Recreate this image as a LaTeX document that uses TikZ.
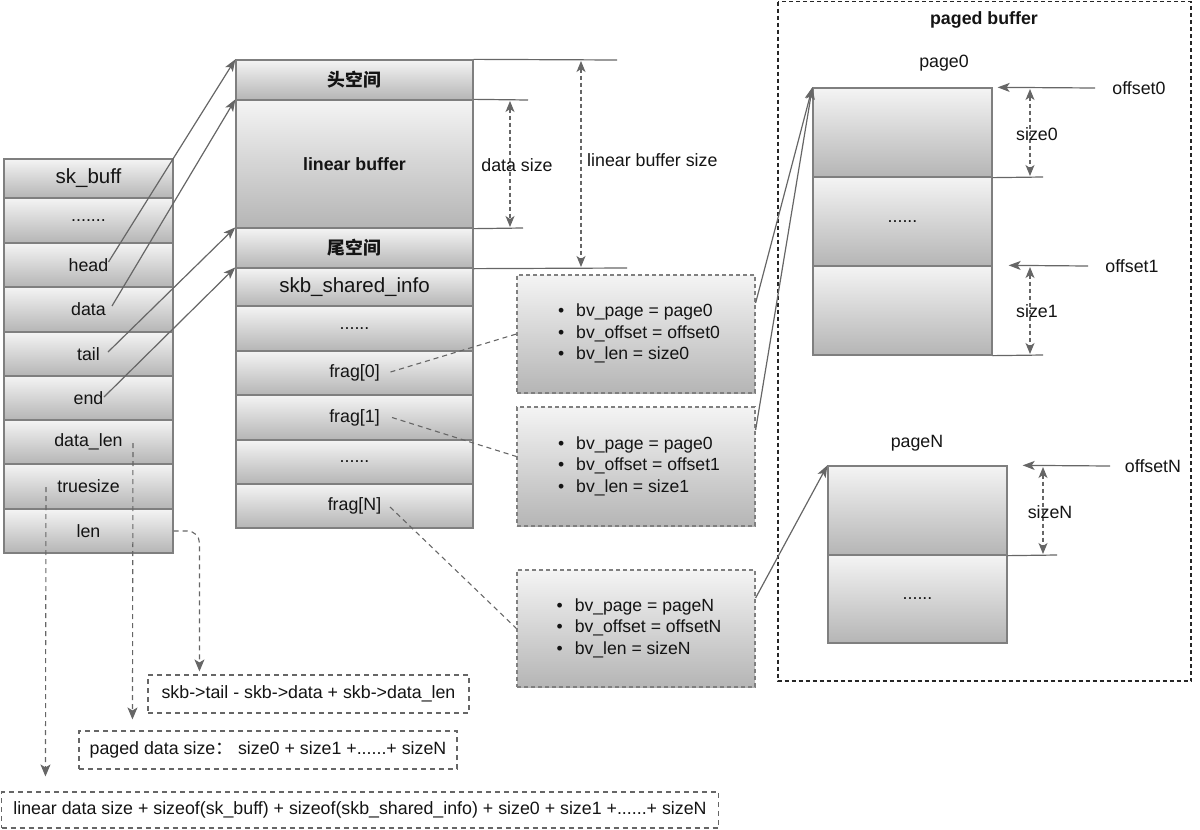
\documentclass[tikz,border=0pt]{standalone}
\usepackage{fontspec}
\setmainfont{Liberation Sans}
\newfontfamily\cjk{Noto Sans CJK SC}
\usetikzlibrary{arrows.meta,calc}
\definecolor{edge}{HTML}{7F7F7F}
\definecolor{lnk}{HTML}{666666}
\definecolor{gtop}{HTML}{F4F4F4}
\definecolor{gbot}{HTML}{B5B5B5}
\definecolor{txt}{HTML}{141414}
\tikzset{
  cell/.style={draw=edge, line width=1.3pt, top color=gtop, bottom color=gbot, inner sep=0pt,
    font=\fontsize{17.8}{21}\selectfont, text=txt},
  hdr/.style={font=\fontsize{20.5}{24}\selectfont},
  bld/.style={font=\fontsize{17.8}{21}\selectfont\bfseries},
  lbl/.style={inner sep=0pt, font=\fontsize{17.8}{21}\selectfont, text=txt},
  ptr/.style={draw=lnk, line width=1.2pt, -{Stealth[length=12pt,width=9pt,inset=3pt]}},
  dimline/.style={draw=lnk, line width=1.2pt},
  dimarr/.style={draw=lnk, line width=1.2pt, dash pattern=on 4pt off 3pt,
    {Stealth[length=11pt,width=9pt,inset=3pt]}-{Stealth[length=11pt,width=9pt,inset=3pt]}},
  dlink/.style={draw=lnk, line width=1.1pt, dash pattern=on 5pt off 4pt},
  darr/.style={dlink, -{Stealth[length=12pt,width=10pt,inset=3pt]}},
  bvbox/.style={draw=edge, line width=1.2pt, dash pattern=on 4pt off 3pt, top color=gtop, bottom color=gbot,
    inner sep=0pt, font=\fontsize{17.6}{21.5}\selectfont, text=txt},
  fbox/.style={draw=lnk, line width=1.1pt, dash pattern=on 5pt off 4pt, fill=white, inner sep=0pt,
    font=\fontsize{17.8}{21}\selectfont, text=txt},
  frame/.style={draw=black!85, line width=1.3pt, dash pattern=on 4pt off 3pt},
}
\begin{document}
\begin{tikzpicture}[x=1pt,y=-1pt]
\useasboundingbox (0,0) rectangle (1200,830);

% ---------- sk_buff column ----------
\node[cell, hdr, minimum width=169pt, minimum height=39pt] (skb) at (88.5,178.5) {sk\_buff};
\node[cell, minimum width=169pt, minimum height=45pt] (sdots) at (88.5,220.5) {.......};
\node[cell, minimum width=169pt, minimum height=44pt] (head) at (88.5,265) {head};
\node[cell, minimum width=169pt, minimum height=45pt] (data) at (88.5,309.5) {data};
\node[cell, minimum width=169pt, minimum height=44pt] (tail) at (88.5,354) {tail};
\node[cell, minimum width=169pt, minimum height=44pt] (end) at (88.5,398) {end};
\node[cell, minimum width=169pt, minimum height=44pt] (datalen) at (88.5,442) {data\_len};
\node[cell, minimum width=169pt, minimum height=45pt] (truesize) at (88.5,486.5) {truesize};
\node[cell, minimum width=169pt, minimum height=44pt] (len) at (88.5,531) {len};

% ---------- linear buffer column ----------
\node[cell, bld, minimum width=237pt, minimum height=40pt] (hs) at (354.5,80) {\cjk\bfseries 头空间};
\node[cell, bld, minimum width=237pt, minimum height=128pt] (lb) at (354.5,164) {linear buffer};
\node[cell, bld, minimum width=237pt, minimum height=40pt] (ts) at (354.5,248) {\cjk\bfseries 尾空间};
\node[cell, hdr, minimum width=237pt, minimum height=38pt] (shi) at (354.5,287) {skb\_shared\_info};
\node[cell, minimum width=237pt, minimum height=45pt] (mdots1) at (354.5,328.5) {......};
\node[cell, minimum width=237pt, minimum height=44pt] (frag0) at (354.5,373) {frag[0]};
\node[cell, minimum width=237pt, minimum height=45pt] (frag1) at (354.5,417.5) {frag[1]};
\node[cell, minimum width=237pt, minimum height=44pt] (mdots2) at (354.5,462) {......};
\node[cell, minimum width=237pt, minimum height=44pt] (fragN) at (354.5,506) {frag[N]};

% pointers
\draw[ptr] ($(head.center)+(20,-3)$) -- (hs.north west);
\draw[ptr] ($(data.center)+(23.5,-3.5)$) -- (lb.north west);
\draw[ptr] ($(tail.center)+(19.5,-2)$) -- (ts.north west);
\draw[ptr] ($(end.center)+(15.5,-1)$) -- (shi.north west);

% dimension lines
\coordinate (d1) at (617,60);
\coordinate (d2) at (528,100);
\coordinate (d3) at (523,228);
\coordinate (d4) at (627,268);
\draw[dimline] (hs.north east) -- (d1);
\draw[dimline] (lb.north east) -- (d2);
\draw[dimline] (lb.south east) -- (d3);
\draw[dimline] (ts.south east) -- (d4);
\coordinate (ds1) at (510,101);
\coordinate (ds2) at (510,227);
\draw[dimarr] (ds1) -- (ds2);
\node[lbl] (dsl) at (517,165) {data size};
\coordinate (ls1) at (581,61);
\coordinate (ls2) at (581,267);
\draw[dimarr] (ls1) -- (ls2);
\node[lbl, anchor=west] (lsl) at (587,160) {linear buffer size};

% ---------- bio_vec boxes ----------
\node[bvbox, minimum width=238pt, minimum height=118pt] (bv0) at (636,334)
  {\hspace{6pt}\begin{tabular}{@{}l@{\hspace{12pt}}l@{}}\textbullet & bv\_page = page0\\ \textbullet & bv\_offset = offset0\\ \textbullet & bv\_len = size0\end{tabular}};
\node[bvbox, minimum width=238pt, minimum height=119pt] (bv1) at (636,466.5)
  {\hspace{6pt}\begin{tabular}{@{}l@{\hspace{12pt}}l@{}}\textbullet & bv\_page = page0\\ \textbullet & bv\_offset = offset1\\ \textbullet & bv\_len = size1\end{tabular}};
\node[bvbox, minimum width=238pt, minimum height=117pt] (bvN) at (636,628.5)
  {\hspace{6pt}\begin{tabular}{@{}l@{\hspace{12pt}}l@{}}\textbullet & bv\_page = pageN\\ \textbullet & bv\_offset = offsetN\\ \textbullet & bv\_len = sizeN\end{tabular}};

\draw[dlink] ($(frag0.center)+(36,-1)$) -- (bv0.west);
\draw[dlink] ($(frag1.center)+(37.5,0)$) -- ([yshift=10pt]bv1.west);
\draw[dlink] ($(fragN.center)+(35.5,1)$) -- (bvN.west);

% ---------- paged buffer ----------
\draw[frame] (778,1.5) rectangle (1191,681);
\node[lbl, font=\fontsize{17.8}{21}\selectfont\bfseries] (pbl) at (984,20) {paged buffer};

\node[lbl] (p0l) at (944,63) {page0};
\node[cell, minimum width=179pt, minimum height=89pt] (p0a) at (902.5,132.5) {};
\node[cell, minimum width=179pt, minimum height=89pt] (p0b) at (902.5,221.5) {......};
\node[cell, minimum width=179pt, minimum height=89pt] (p0c) at (902.5,310.5) {};

\node[lbl] (pNl) at (917,443) {pageN};
\node[cell, minimum width=179pt, minimum height=89pt] (pNa) at (917.5,510.5) {};
\node[cell, minimum width=179pt, minimum height=88pt] (pNb) at (917.5,599) {......};

\draw[ptr] ([yshift=31pt]bv0.east) -- (p0a.north west);
\draw[ptr] ([yshift=36.5pt]bv1.east) -- (p0a.north west);
\draw[ptr] ([yshift=30.5pt]bvN.east) -- (pNa.north west);

% offsets and sizes
\node[lbl] (o0l) at (1139,88) {offset0};
\coordinate (o0s) at (1095,88);
\draw[ptr] (o0s) -- ([xshift=5pt]p0a.north east);
\coordinate (s0e) at (1043,177);
\draw[dimline] (p0a.south east) -- (s0e);
\coordinate (s0a) at (1030,89);
\coordinate (s0b) at (1030,176);
\draw[dimarr] (s0a) -- (s0b);
\node[lbl] (s0l) at (1037,134) {size0};

\node[lbl] (o1l) at (1132,266) {offset1};
\coordinate (o1s) at (1088,266);
\draw[ptr] (o1s) -- ([xshift=16pt]p0c.north east);
\coordinate (s1e) at (1043,355);
\draw[dimline] (p0c.south east) -- (s1e);
\coordinate (s1a) at (1030,267);
\coordinate (s1b) at (1030,354);
\draw[dimarr] (s1a) -- (s1b);
\node[lbl] (s1l) at (1037,311) {size1};

\node[lbl] (oNl) at (1153,466) {offsetN};
\coordinate (oNs) at (1110,466);
\draw[ptr] (oNs) -- ([xshift=15pt]pNa.north east);
\coordinate (sNe) at (1057,555);
\draw[dimline] (pNa.south east) -- (sNe);
\coordinate (sNa) at (1043,467);
\coordinate (sNb) at (1043,554);
\draw[dimarr] (sNa) -- (sNb);
\node[lbl] (sNl) at (1050,512) {sizeN};

% ---------- formulas ----------
\node[fbox, minimum width=321pt, minimum height=38pt] (f1) at (308.5,694) {skb->tail - skb->data + skb->data\_len};
\node[fbox, minimum width=378pt, minimum height=38pt] (f2) at (268,750) {paged data size{\cjk ：}\ size0 + size1 +......+ sizeN};
\node[fbox, minimum width=717pt, minimum height=36pt] (f3) at (360,810) {linear data size + sizeof(sk\_buff) + sizeof(skb\_shared\_info) + size0 + size1 +......+ sizeN};

\draw[darr, rounded corners=12pt] (len.east) -| ($(f1.north west)+(52,-3)$);
\draw[darr] ($(datalen.center)+(44.5,1)$) -- ($(f2.north west)+(54,-11)$);
\draw[darr] ($(truesize.center)+(-42.5,0.5)$) -- ($(f3.north west)+(44.5,-15)$);
\end{tikzpicture}
\end{document}
